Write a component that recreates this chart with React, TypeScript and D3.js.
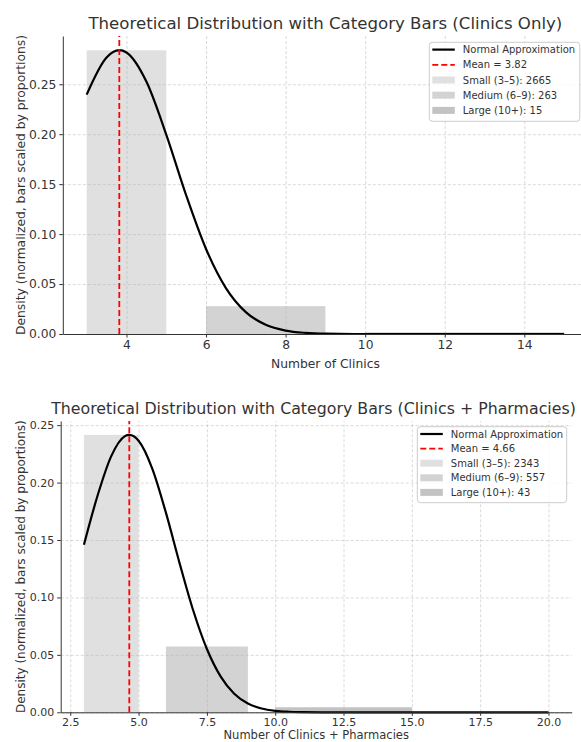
import React, { useEffect, useRef } from "react";
import * as d3 from "d3";

// shared category bins
const categories = ["Small (3–5)", "Medium (6–9)", "Large (10+)"];
const binStart = [3, 6, 10];
const binEnd = [5, 9, 15];
const barColors = ["#d3d3d3", "#c0c0c0", "#a9a9a9"];
const yTicks = [0, 0.05, 0.1, 0.15, 0.2, 0.25];

// clinics only
const clinicCounts = [2665, 263, 15];
const clinicBarHeights = [0.284, 0.0279, 0.0016];
const clinicMean = 3.82;
const clinicCurveX = [3, 3.5, 3.82, 4, 4.5, 5, 5.5, 6, 6.5, 7, 7.5, 8, 8.5, 9, 10, 11, 12, 13, 14, 15];
const clinicCurveY = [0.2396, 0.2768, 0.2841, 0.2818, 0.2527, 0.1996, 0.1389, 0.0851, 0.046, 0.0219, 0.0092, 0.0034, 0.0011, 0.0003, 0, 0, 0, 0, 0, 0];
const clinicXTicks = [4, 6, 8, 10, 12, 14];

// clinics + pharmacies
const comboCounts = [2343, 557, 43];
const comboBarHeights = [0.2415, 0.0573, 0.0044];
const comboMean = 4.66;
const comboCurveX = [3, 3.5, 4, 4.5, 4.66, 5, 5.5, 6, 6.5, 7, 7.5, 8, 8.5, 9, 9.5, 10, 10.5, 11, 12, 14, 16, 18, 20];
const comboCurveY = [0.1458, 0.1887, 0.223, 0.2404, 0.2415, 0.2364, 0.2122, 0.1738, 0.1299, 0.0886, 0.0551, 0.0313, 0.0162, 0.0077, 0.0033, 0.0013, 0.0005, 0.0002, 0, 0, 0, 0, 0];
const comboXTicks = [2.5, 5, 7.5, 10, 12.5, 15, 17.5, 20];

const FONT = "DejaVu Sans";
const TEXT = "#333";

function drawPanel(svg: any, p: any) {
  const g = svg.append("g");
  const x = d3.scaleLinear().domain(p.xDomain).range([p.left, p.right]);
  const y = d3.scaleLinear().domain(p.yDomain).range([p.bottom, p.top]);
  const innerH = p.bottom - p.top;
  const innerW = p.right - p.left;

  // bars
  g.selectAll(".bar").data(categories).join("rect").attr("class", "bar")
    .attr("x", (d: string, i: number) => x(binStart[i]))
    .attr("width", (d: string, i: number) => x(binEnd[i]) - x(binStart[i]))
    .attr("y", (d: string, i: number) => y(p.heights[i]))
    .attr("height", (d: string, i: number) => y(0) - y(p.heights[i]))
    .attr("fill", (d: string, i: number) => barColors[i])
    .attr("fill-opacity", 0.7);

  // grid
  g.append("g").attr("transform", `translate(0,${p.bottom})`)
    .call(d3.axisBottom(x).tickValues(p.xTicks).tickSize(-innerH).tickSizeOuter(0).tickFormat(() => ""))
    .call((a: any) => a.select(".domain").remove())
    .selectAll("line").attr("stroke", "#b0b0b0").attr("stroke-opacity", 0.6)
    .attr("stroke-dasharray", "3,2").attr("stroke-width", 0.8);
  g.append("g").attr("transform", `translate(${p.left},0)`)
    .call(d3.axisLeft(y).tickValues(yTicks).tickSize(-innerW).tickSizeOuter(0).tickFormat(() => ""))
    .call((a: any) => a.select(".domain").remove())
    .selectAll("line").attr("stroke", "#b0b0b0").attr("stroke-opacity", 0.6)
    .attr("stroke-dasharray", "3,2").attr("stroke-width", 0.8);

  // normal curve
  const line = d3.line<number>()
    .x((d, i) => x(p.curveX[i]))
    .y((d) => y(d))
    .curve(d3.curveMonotoneX);
  g.append("path").datum(p.curveY).attr("d", line)
    .attr("fill", "none").attr("stroke", "#000").attr("stroke-width", 2.2);

  // mean line
  g.append("line")
    .attr("x1", x(p.mean)).attr("x2", x(p.mean))
    .attr("y1", p.bottom).attr("y2", p.top)
    .attr("stroke", "red").attr("stroke-width", 1.8).attr("stroke-dasharray", "6,3");

  // axes
  const xAxis = g.append("g").attr("transform", `translate(0,${p.bottom})`)
    .call(d3.axisBottom(x).tickValues(p.xTicks).tickSize(3.5).tickSizeOuter(0).tickPadding(p.xPad).tickFormat(p.xFmt));
  const yAxis = g.append("g").attr("transform", `translate(${p.left},0)`)
    .call(d3.axisLeft(y).tickValues(yTicks).tickSize(3.5).tickSizeOuter(0).tickPadding(3).tickFormat(d3.format(".2f")));
  [xAxis, yAxis].forEach((a) => {
    a.select(".domain").attr("stroke", "#333").attr("stroke-width", 1);
    a.selectAll(".tick line").attr("stroke", "#333");
    a.selectAll("text").attr("font-family", FONT).attr("font-size", p.tickSize).attr("fill", TEXT);
  });

  // title
  svg.append("text")
    .attr("x", p.titleX).attr("y", p.top - 7)
    .attr("text-anchor", "middle")
    .attr("font-family", FONT).attr("font-size", p.titleSize).attr("fill", TEXT)
    .text(p.title);

  // x label
  svg.append("text")
    .attr("x", (p.left + p.right) / 2).attr("y", p.xLabelY)
    .attr("text-anchor", "middle")
    .attr("font-family", FONT).attr("font-size", p.labelSize).attr("fill", TEXT)
    .text(p.xLabel);

  // y label
  svg.append("text")
    .attr("transform", `translate(24.5,${(p.top + p.bottom) / 2}) rotate(-90)`)
    .attr("text-anchor", "middle")
    .attr("font-family", FONT).attr("font-size", p.yLabelSize).attr("fill", TEXT)
    .text("Density (normalized, bars scaled by proportions)");

  // legend
  const lg = svg.append("g").attr("transform", `translate(${p.legend[0]},${p.legend[1]})`);
  const rowH = p.legendRow;
  lg.append("rect").attr("width", p.legend[2]).attr("height", rowH * 5 + 3)
    .attr("rx", 3).attr("fill", "white").attr("fill-opacity", 0.8)
    .attr("stroke", "#cccccc").attr("stroke-width", 1);
  const labels = ["Normal Approximation", `Mean = ${p.mean.toFixed(2)}`]
    .concat(categories.map((c, i) => `${c}: ${p.counts[i]}`));
  labels.forEach((t, i) => {
    const cy = 7.3 + i * rowH;
    if (i === 0) {
      lg.append("line").attr("x1", 3).attr("x2", 25.5).attr("y1", cy).attr("y2", cy)
        .attr("stroke", "#000").attr("stroke-width", 2.2);
    } else if (i === 1) {
      lg.append("line").attr("x1", 3).attr("x2", 25.5).attr("y1", cy).attr("y2", cy)
        .attr("stroke", "red").attr("stroke-width", 1.8).attr("stroke-dasharray", "6,3");
    } else {
      lg.append("rect").attr("x", 3).attr("y", cy - 3.5).attr("width", 22.5).attr("height", 7)
        .attr("fill", barColors[i - 2]).attr("fill-opacity", 0.7);
    }
    lg.append("text").attr("x", 33.5).attr("y", cy).attr("dy", "0.36em")
      .attr("font-family", FONT).attr("font-size", 10).attr("fill", TEXT)
      .text(t);
  });
}

export default function App() {
  const ref = useRef<SVGSVGElement>(null);

  useEffect(() => {
    const svg = d3.select(ref.current);
    svg.selectAll("*").remove();

    drawPanel(svg, {
      left: 62.8, right: 588, top: 36, bottom: 334,
      xDomain: [2.4, 15.6], yDomain: [0, 0.2983],
      xTicks: clinicXTicks, xFmt: d3.format("d"), xPad: 3,
      heights: clinicBarHeights, counts: clinicCounts, mean: clinicMean,
      curveX: clinicCurveX, curveY: clinicCurveY,
      title: "Theoretical Distribution with Category Bars (Clinics Only)",
      titleSize: 16.6, titleX: 325.4,
      tickSize: 12.3, labelSize: 12.3, yLabelSize: 12.3,
      xLabel: "Number of Clinics", xLabelY: 368,
      legend: [429.3, 42.3, 150.5], legendRow: 15.2,
    });

    drawPanel(svg, {
      left: 60.7, right: 571.7, top: 421, bottom: 712.3,
      xDomain: [2.15, 20.85], yDomain: [0, 0.2536],
      xTicks: comboXTicks, xFmt: d3.format(".1f"), xPad: 2,
      heights: comboBarHeights, counts: comboCounts, mean: comboMean,
      curveX: comboCurveX, curveY: comboCurveY,
      title: "Theoretical Distribution with Category Bars (Clinics + Pharmacies)",
      titleSize: 15.8, titleX: 313.5,
      tickSize: 11, labelSize: 11.5, yLabelSize: 12,
      xLabel: "Number of Clinics + Pharmacies", xLabelY: 739.2,
      legend: [417.3, 426.7, 149.4], legendRow: 14.6,
    });
  }, []);

  return (
    <svg ref={ref} width={581} height={742}
      style={{ position: "absolute", left: 0, top: 0, background: "white" }} />
  );
}
